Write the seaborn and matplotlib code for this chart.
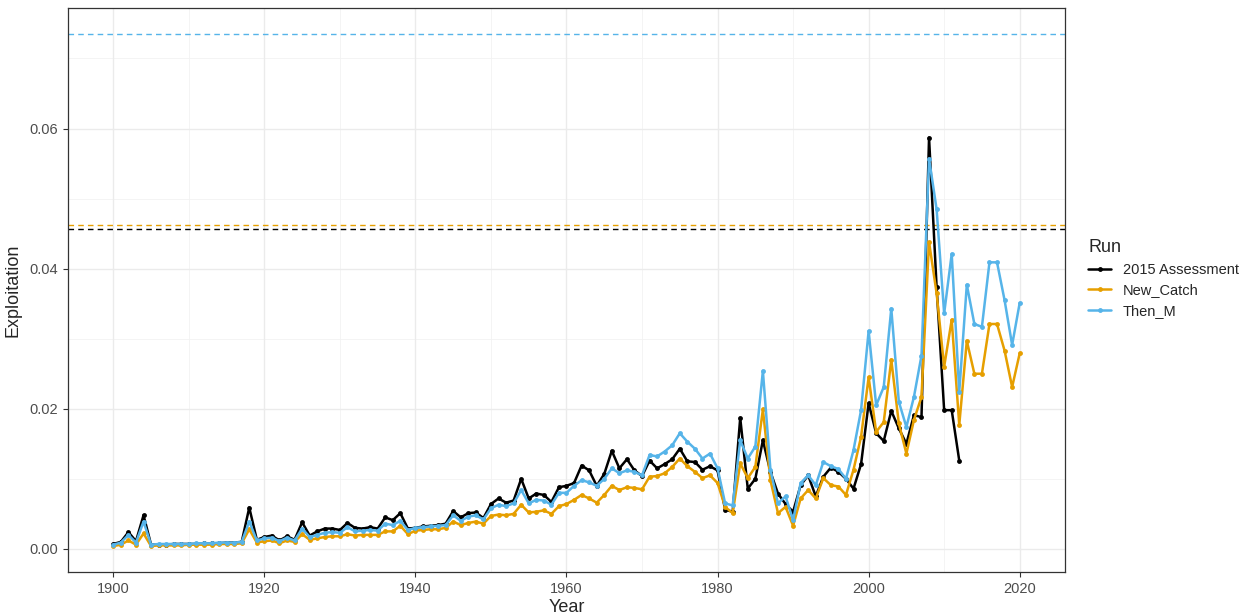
import numpy as np
import pandas as pd
import matplotlib
matplotlib.use("Agg")
import matplotlib.pyplot as plt
import seaborn as sns

years = list(range(1900, 2021))

# 2015 Assessment runs 1900-2012
assessment_2015 = [
    0.0007, 0.0010, 0.0024, 0.0011, 0.0048, 0.0006, 0.0006, 0.0006, 0.0007, 0.0007,
    0.0007, 0.0007, 0.0008, 0.0008, 0.0008, 0.0009, 0.0009, 0.0010, 0.0059, 0.0013,
    0.0017, 0.0019, 0.0012, 0.0018, 0.0013, 0.0038, 0.0019, 0.0025, 0.0029, 0.0029,
    0.0027, 0.0037, 0.0030, 0.0029, 0.0031, 0.0029, 0.0045, 0.0041, 0.0051, 0.0029,
    0.0030, 0.0032, 0.0033, 0.0034, 0.0036, 0.0054, 0.0045, 0.0051, 0.0052, 0.0044,
    0.0064, 0.0072, 0.0066, 0.0069, 0.0100, 0.0072, 0.0079, 0.0077, 0.0067, 0.0088,
    0.0090, 0.0094, 0.0119, 0.0112, 0.0090, 0.0107, 0.0140, 0.0115, 0.0128, 0.0112,
    0.0104, 0.0126, 0.0115, 0.0121, 0.0128, 0.0143, 0.0125, 0.0124, 0.0113, 0.0118,
    0.0112, 0.0056, 0.0053, 0.0187, 0.0086, 0.0100, 0.0155, 0.0110, 0.0079, 0.0064,
    0.0053, 0.0091, 0.0105, 0.0075, 0.0103, 0.0116, 0.0110, 0.0100, 0.0086, 0.0121,
    0.0208, 0.0165, 0.0154, 0.0197, 0.0172, 0.0150, 0.0191, 0.0188, 0.0587, 0.0374,
    0.0198, 0.0198, 0.0126,
]

new_catch = [
    0.0004, 0.0006, 0.0012, 0.0006, 0.0022, 0.0004, 0.0005, 0.0005, 0.0005, 0.0005,
    0.0006, 0.0006, 0.0006, 0.0006, 0.0007, 0.0007, 0.0007, 0.0008, 0.0028, 0.0009,
    0.0011, 0.0012, 0.0008, 0.0012, 0.0010, 0.0021, 0.0013, 0.0015, 0.0017, 0.0018,
    0.0018, 0.0021, 0.0019, 0.0020, 0.0020, 0.0020, 0.0025, 0.0025, 0.0033, 0.0021,
    0.0026, 0.0027, 0.0028, 0.0028, 0.0030, 0.0039, 0.0034, 0.0037, 0.0039, 0.0036,
    0.0047, 0.0049, 0.0048, 0.0050, 0.0063, 0.0052, 0.0053, 0.0055, 0.0050, 0.0061,
    0.0064, 0.0070, 0.0077, 0.0072, 0.0066, 0.0077, 0.0090, 0.0084, 0.0088, 0.0087,
    0.0085, 0.0103, 0.0104, 0.0108, 0.0117, 0.0129, 0.0118, 0.0110, 0.0101, 0.0105,
    0.0094, 0.0060, 0.0051, 0.0122, 0.0101, 0.0117, 0.0199, 0.0098, 0.0051, 0.0060,
    0.0033, 0.0072, 0.0084, 0.0072, 0.0101, 0.0091, 0.0089, 0.0077, 0.0113, 0.0160,
    0.0245, 0.0167, 0.0181, 0.0270, 0.0179, 0.0136, 0.0184, 0.0217, 0.0438, 0.0365,
    0.0260, 0.0327, 0.0177, 0.0297, 0.0250, 0.0250, 0.0321, 0.0321, 0.0283, 0.0231,
    0.0279,
]

then_m = [
    0.0006, 0.0009, 0.0020, 0.0009, 0.0039, 0.0006, 0.0007, 0.0007, 0.0007, 0.0007,
    0.0007, 0.0008, 0.0008, 0.0008, 0.0009, 0.0009, 0.0009, 0.0010, 0.0039, 0.0012,
    0.0015, 0.0016, 0.0011, 0.0016, 0.0012, 0.0029, 0.0017, 0.0020, 0.0023, 0.0024,
    0.0023, 0.0031, 0.0025, 0.0026, 0.0027, 0.0026, 0.0036, 0.0034, 0.0040, 0.0027,
    0.0030, 0.0031, 0.0032, 0.0033, 0.0034, 0.0048, 0.0040, 0.0046, 0.0048, 0.0042,
    0.0058, 0.0063, 0.0061, 0.0065, 0.0084, 0.0065, 0.0070, 0.0069, 0.0063, 0.0080,
    0.0080, 0.0090, 0.0098, 0.0095, 0.0090, 0.0100, 0.0115, 0.0108, 0.0112, 0.0110,
    0.0105, 0.0134, 0.0132, 0.0139, 0.0148, 0.0165, 0.0153, 0.0143, 0.0129, 0.0136,
    0.0115, 0.0065, 0.0062, 0.0155, 0.0129, 0.0146, 0.0254, 0.0113, 0.0065, 0.0075,
    0.0041, 0.0094, 0.0105, 0.0091, 0.0124, 0.0118, 0.0114, 0.0100, 0.0141, 0.0198,
    0.0311, 0.0205, 0.0231, 0.0343, 0.0210, 0.0174, 0.0217, 0.0276, 0.0557, 0.0485,
    0.0336, 0.0421, 0.0224, 0.0377, 0.0321, 0.0317, 0.0409, 0.0409, 0.0355, 0.0291,
    0.0351,
]

run_names = ["2015 Assessment", "New_Catch", "Then_M"]
run_colors = ["#000000", "#E69F00", "#56B4E9"]
reference_levels = [0.0457, 0.0463, 0.0735]

# long table for seaborn
frames = []
for name, vals in zip(run_names, [assessment_2015, new_catch, then_m]):
    frames.append(pd.DataFrame({"Year": years[:len(vals)], "Exploitation": vals, "Run": name}))
df = pd.concat(frames, ignore_index=True)

sns.set_style("white")
plt.rcParams["font.family"] = ["Liberation Sans", "DejaVu Sans"]

fig = plt.figure(figsize=(12.43, 6.16), dpi=100)
ax = fig.add_axes([0.0547, 0.0714, 0.8021, 0.9156])

# grid like theme_bw
for v in range(1910, 2030, 20):
    ax.axvline(v, color="#F2F2F2", lw=0.6, zorder=0)
for v in np.arange(0.01, 0.08, 0.02):
    ax.axhline(v, color="#F2F2F2", lw=0.6, zorder=0)
for v in range(1900, 2021, 20):
    ax.axvline(v, color="#EBEBEB", lw=1.0, zorder=0)
for v in np.arange(0.0, 0.07, 0.02):
    ax.axhline(v, color="#EBEBEB", lw=1.0, zorder=0)

sns.lineplot(data=df, x="Year", y="Exploitation", hue="Run", hue_order=run_names,
             palette=run_colors, marker="o", markersize=3.5, markeredgewidth=0,
             linewidth=1.8, ax=ax, zorder=3)

for lvl, col in zip(reference_levels, run_colors):
    ax.axhline(lvl, color=col, lw=1.0, ls=(0, (4, 3)), zorder=2)

ax.set_xlim(1894, 2026)
ax.set_ylim(-0.0033, 0.0772)
ax.set_xticks(range(1900, 2021, 20))
ax.set_yticks([0.0, 0.02, 0.04, 0.06])
ax.set_yticklabels(["0.00", "0.02", "0.04", "0.06"])
ax.tick_params(axis="both", labelsize=10.5, labelcolor="#4D4D4D", color="#333333",
               length=3.5, width=0.8, direction="out", bottom=True, left=True)
ax.set_xlabel("Year", fontsize=13, labelpad=2)
ax.set_ylabel("Exploitation", fontsize=13, labelpad=6)
for s in ax.spines.values():
    s.set_color("#333333")
    s.set_linewidth(0.9)

handles, labels = ax.get_legend_handles_labels()
ax.legend(handles, labels, title="Run", loc="center left", bbox_to_anchor=(1.01, 0.52),
          frameon=False, fontsize=10.5, title_fontsize=13, handlelength=1.6,
          borderaxespad=0.5, labelspacing=0.45, alignment="left")

fig.savefig("out.png", dpi=100)
